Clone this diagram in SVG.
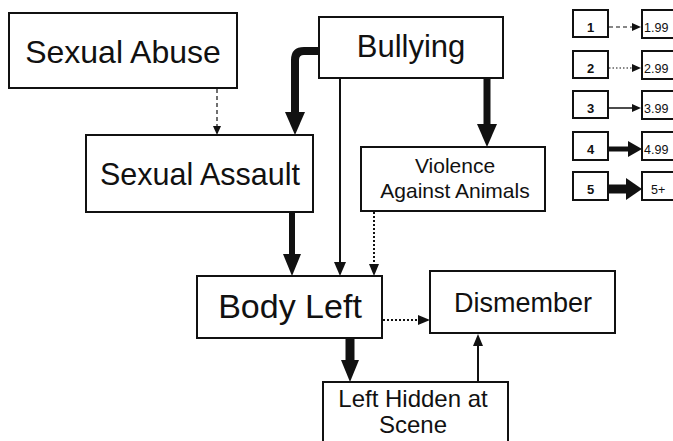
<svg xmlns="http://www.w3.org/2000/svg" width="673" height="441" viewBox="0 0 673 441">
<style>
.box{fill:#fff;stroke:#111;stroke-width:2}
.t{font-family:"Liberation Sans",Arial,sans-serif;fill:#111;text-anchor:middle}
.lt{font-family:"Liberation Sans",Arial,sans-serif;fill:#111}
.c{fill:none;stroke:#111}
</style>
<defs>
<marker id="ah-xl" markerUnits="userSpaceOnUse" orient="auto" refX="0" refY="0" markerWidth="30" markerHeight="30" overflow="visible"><path d="M0,-10 L23,0 L0,10 z" fill="#111"/></marker>
<marker id="ah-l" markerUnits="userSpaceOnUse" orient="auto" refX="0" refY="0" markerWidth="30" markerHeight="30" overflow="visible"><path d="M0,-9 L22,0 L0,9 z" fill="#111"/></marker>
<marker id="ah-m" markerUnits="userSpaceOnUse" orient="auto" refX="0" refY="0" markerWidth="30" markerHeight="30" overflow="visible"><path d="M0,-6 L14,0 L0,6 z" fill="#111"/></marker>
<marker id="ah-s" markerUnits="userSpaceOnUse" orient="auto" refX="0" refY="0" markerWidth="30" markerHeight="30" overflow="visible"><path d="M0,-5 L12,0 L0,5 z" fill="#111"/></marker>
<marker id="ah-xs" markerUnits="userSpaceOnUse" orient="auto" refX="0" refY="0" markerWidth="30" markerHeight="30" overflow="visible"><path d="M0,-4 L9,0 L0,4 z" fill="#111"/></marker>
<marker id="ah-lg4" markerUnits="userSpaceOnUse" orient="auto" refX="0" refY="0" markerWidth="30" markerHeight="30" overflow="visible"><path d="M0,-8 L14,0 L0,8 z" fill="#111"/></marker>
<marker id="ah-lg5" markerUnits="userSpaceOnUse" orient="auto" refX="0" refY="0" markerWidth="30" markerHeight="30" overflow="visible"><path d="M0,-11 L16,0 L0,11 z" fill="#111"/></marker>
</defs>
<rect width="673" height="441" fill="#fff"/>

<g id="connectors">
<line class="c" x1="217" y1="89" x2="217" y2="126" stroke-width="1.2" stroke-dasharray="4,3" marker-end="url(#ah-xs)"/>
<path class="c" d="M320,51 H304 Q295,51 295,60 V112" stroke-width="8" marker-end="url(#ah-xl)"/>
<line class="c" x1="487" y1="78" x2="487" y2="124" stroke-width="7" marker-end="url(#ah-xl)"/>
<line class="c" x1="340" y1="78" x2="340" y2="262" stroke-width="2" marker-end="url(#ah-m)"/>
<line class="c" x1="292" y1="212" x2="292" y2="254" stroke-width="6" marker-end="url(#ah-l)"/>
<line class="c" x1="374" y1="212" x2="374" y2="264" stroke-width="2" stroke-dasharray="2,2" marker-end="url(#ah-s)"/>
<line class="c" x1="383" y1="320" x2="418" y2="320" stroke-width="2" stroke-dasharray="2,2" marker-end="url(#ah-s)"/>
<line class="c" x1="350" y1="338" x2="350" y2="360" stroke-width="9" marker-end="url(#ah-l)"/>
<line class="c" x1="478" y1="382" x2="478" y2="346" stroke-width="2" marker-end="url(#ah-s)"/>
</g>

<g id="sexual-abuse"><rect class="box" x="9" y="13" width="228" height="75"/><text class="t" x="123" y="63" font-size="32">Sexual Abuse</text></g>
<g id="bullying"><rect class="box" x="319" y="17" width="184" height="61"/><text class="t" x="411" y="57" font-size="31">Bullying</text></g>
<g id="sexual-assault"><rect class="box" x="86" y="135" width="227" height="77"/><text class="t" x="200" y="185" font-size="30.5">Sexual Assault</text></g>
<g id="violence"><rect class="box" x="361" y="147" width="184" height="64"/><text class="t" x="455" y="173" font-size="21">Violence</text><text class="t" x="455" y="198" font-size="21">Against Animals</text></g>
<g id="body-left"><rect class="box" x="197" y="276" width="185" height="62"/><text class="t" x="290" y="318" font-size="34">Body Left</text></g>
<g id="dismember"><rect class="box" x="430" y="271" width="185" height="62"/><text class="t" x="523" y="312" font-size="27">Dismember</text></g>
<g id="left-hidden"><rect class="box" x="323" y="382" width="185" height="70"/><text class="t" x="413" y="407" font-size="24">Left Hidden at</text><text class="t" x="413" y="433" font-size="24">Scene</text></g>

<g id="legend">
<g id="legend-1"><rect class="box" x="573" y="10" width="35" height="27" stroke-width="1.5"/><text class="t" x="590.5" y="32" font-size="13" font-weight="bold">1</text><line class="c" x1="609" y1="27" x2="632" y2="27" stroke-width="1.2" stroke-dasharray="4,3" marker-end="url(#ah-xs)"/><rect class="box" x="642" y="10" width="40" height="28" stroke-width="1.5"/><text class="lt" x="644" y="32" font-size="12.5">1.99</text></g>
<g id="legend-2"><rect class="box" x="573" y="51" width="35" height="27" stroke-width="1.5"/><text class="t" x="590.5" y="73" font-size="13" font-weight="bold">2</text><line class="c" x1="609" y1="68" x2="632" y2="68" stroke-width="1.2" stroke-dasharray="1.5,2" marker-end="url(#ah-xs)"/><rect class="box" x="642" y="51" width="40" height="28" stroke-width="1.5"/><text class="lt" x="644" y="73" font-size="12.5">2.99</text></g>
<g id="legend-3"><rect class="box" x="573" y="91" width="35" height="27" stroke-width="1.5"/><text class="t" x="590.5" y="113" font-size="13" font-weight="bold">3</text><line class="c" x1="609" y1="108" x2="632" y2="108" stroke-width="1.5" marker-end="url(#ah-xs)"/><rect class="box" x="642" y="91" width="40" height="28" stroke-width="1.5"/><text class="lt" x="644" y="113" font-size="12.5">3.99</text></g>
<g id="legend-4"><rect class="box" x="573" y="132" width="35" height="28" stroke-width="1.5"/><text class="t" x="590.5" y="154" font-size="13" font-weight="bold">4</text><line class="c" x1="609" y1="149" x2="628" y2="149" stroke-width="5" marker-end="url(#ah-lg4)"/><rect class="box" x="642" y="132" width="40" height="28" stroke-width="1.5"/><text class="lt" x="644" y="154" font-size="12.5">4.99</text></g>
<g id="legend-5"><rect class="box" x="573" y="172" width="35" height="28" stroke-width="1.5"/><text class="t" x="590.5" y="194" font-size="13" font-weight="bold">5</text><line class="c" x1="609" y1="189" x2="626" y2="189" stroke-width="9" marker-end="url(#ah-lg5)"/><rect class="box" x="642" y="172" width="40" height="28" stroke-width="1.5"/><text class="lt" x="651" y="194" font-size="12.5">5+</text></g>
</g>
</svg>
